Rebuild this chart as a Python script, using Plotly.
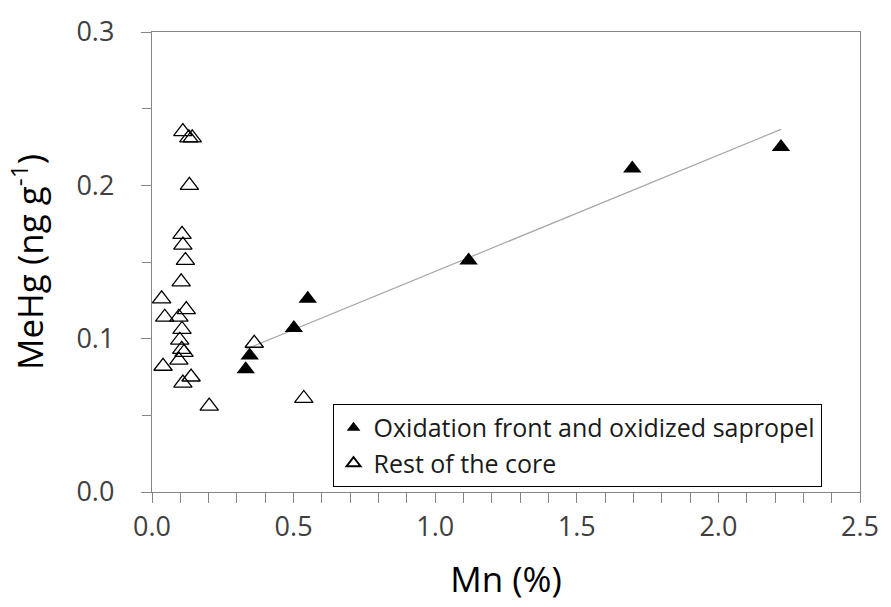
import numpy as np
import plotly.graph_objects as go

# Oxidation front and oxidized sapropel (filled triangles)
ox_mn = [0.331, 0.345, 0.501, 0.550, 1.118, 1.696, 2.221]
ox_mehg = [0.080, 0.089, 0.107, 0.126, 0.151, 0.211, 0.225]

# Rest of the core (open triangles)
rest_mn = [0.109, 0.130, 0.142, 0.132, 0.106, 0.109, 0.118, 0.103, 0.034, 0.121,
           0.045, 0.095, 0.106, 0.098, 0.113, 0.105, 0.095, 0.039, 0.138, 0.109,
           0.202, 0.361, 0.536]
rest_mehg = [0.235, 0.231, 0.231, 0.200, 0.168, 0.161, 0.151, 0.137, 0.126, 0.119,
             0.114, 0.114, 0.106, 0.099, 0.091, 0.093, 0.086, 0.082, 0.075, 0.071,
             0.056, 0.097, 0.061]

x_ticks = [0.0, 0.5, 1.0, 1.5, 2.0, 2.5]
y_ticks = [0.0, 0.1, 0.2, 0.3]

# linear trend of the filled series
slope, intercept = np.polyfit(ox_mn, ox_mehg, 1)
trend_x = [min(ox_mn), max(ox_mn)]
trend_y = [slope * v + intercept for v in trend_x]

AX = "#868686"
TXT = "#404040"
FONT = "Open Sans"
PAD = "\u00a0\u00a0\u00a0"

fig = go.Figure()
fig.add_trace(go.Scatter(x=trend_x, y=trend_y, mode="lines",
                         line=dict(color="#a6a6a6", width=1.2),
                         showlegend=False, hoverinfo="skip"))
fig.add_trace(go.Scatter(x=rest_mn, y=rest_mehg, mode="markers",
                         name="Rest of the core", legendgroup="b", legendrank=2,
                         marker=dict(symbol="triangle-up-open", size=16,
                                     color="black", line=dict(width=1.3, color="black"))))
fig.add_trace(go.Scatter(x=ox_mn, y=ox_mehg, mode="markers",
                         name="Oxidation front and oxidized sapropel", legendgroup="a",
                         legendrank=1,
                         marker=dict(symbol="triangle-up", size=16, color="black",
                                     line=dict(width=0))))

fig.update_layout(
    width=891, height=607,
    margin=dict(l=152, r=21, t=25, b=115),
    paper_bgcolor="white", plot_bgcolor="white",
    font=dict(family=FONT, color=TXT),
    showlegend=True,
    legend=dict(x=0.255, y=0.011, xanchor="left", yanchor="bottom",
                bordercolor="black", borderwidth=1, bgcolor="white",
                font=dict(family=FONT, size=25, color="#1a1a1a"),
                traceorder="grouped", tracegroupgap=0,
                itemsizing="constant"),
    xaxis=dict(range=[0, 2.5], tickvals=x_ticks, ticktext=[f"{v:.1f}" for v in x_ticks],
               showline=True, linecolor=AX, linewidth=1.3, mirror=True,
               ticks="outside", ticklen=10, tickcolor=AX, tickwidth=1.3,
               minor=dict(dtick=0.1, ticks="outside", ticklen=10, tickcolor=AX, tickwidth=1.3),
               showgrid=False, zeroline=False,
               tickfont=dict(size=27, color=TXT),
               title=dict(text="Mn (%)", font=dict(size=35, color="black"), standoff=24)),
    yaxis=dict(range=[0, 0.3], tickvals=y_ticks, ticktext=[f"{v:.1f}" + PAD for v in y_ticks],
               showline=True, linecolor=AX, linewidth=1.3, mirror=True,
               ticks="outside", ticklen=10, tickcolor=AX, tickwidth=1.3,
               minor=dict(dtick=0.05, ticks="outside", ticklen=9, tickcolor=AX, tickwidth=1.3),
               showgrid=False, zeroline=False,
               tickfont=dict(size=27, color=TXT),
               title=dict(text="MeHg (ng g<sup>-1</sup>)", font=dict(size=35, color="black"),
                          standoff=22)),
)

fig.write_html("out.html")
